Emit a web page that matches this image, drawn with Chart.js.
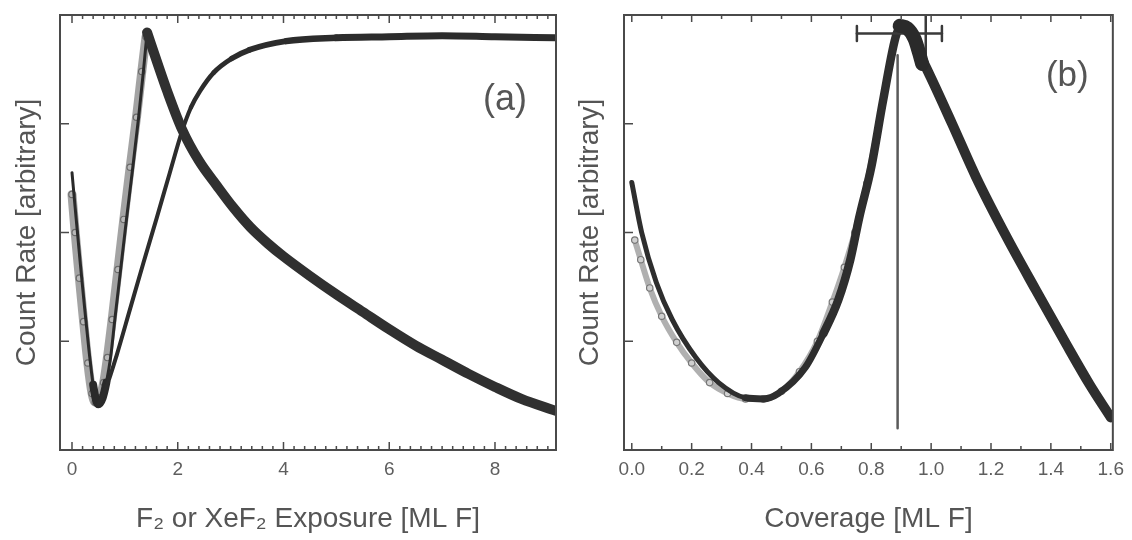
<!DOCTYPE html>
<html>
<head>
<meta charset="utf-8">
<script src="https://cdn.jsdelivr.net/npm/chart.js@4.4.1/dist/chart.umd.min.js"></script>
<style>
  html, body { margin: 0; padding: 0; background: #ffffff; }
  #wrap { position: relative; width: 1132px; height: 540px; overflow: hidden; background: #ffffff; }
  canvas { position: absolute; top: 0; }
</style>
</head>
<body>
<div id="wrap">
  <canvas id="chartA" width="570" height="540" style="left:0px"></canvas>
  <canvas id="chartB" width="556" height="540" style="left:576px"></canvas>
</div>
<script>
// ---------------- Panel (a) data ----------------
const aTickLabels = [0, 2, 4, 6, 8];
const aYTicks = [1, 2, 3];
// rising (saturating) curve
const aRiseX = [0.5, 0.65, 0.85, 1.1, 1.35, 1.6, 1.85, 2.08, 2.25, 2.42, 2.68, 3.02, 3.36, 4.05, 5.0, 6.0, 7.0, 8.0, 9.15];
const aRiseY = [0.42, 0.58, 0.88, 1.3, 1.72, 2.13, 2.55, 2.93, 3.15, 3.3, 3.47, 3.6, 3.68, 3.76, 3.79, 3.8, 3.81, 3.8, 3.79];
// black V (start -> minimum -> peak)
const aVX = [0.0, 0.08, 0.16, 0.24, 0.32, 0.4, 0.46, 0.5, 0.58, 0.65, 0.73, 0.81, 0.92, 1.03, 1.15, 1.26, 1.35, 1.42];
const aVY = [2.55, 2.12, 1.7, 1.3, 0.92, 0.6, 0.45, 0.42, 0.48, 0.62, 0.85, 1.2, 1.66, 2.12, 2.6, 3.06, 3.48, 3.84];
// grey open circles (V part)
const aGrayX = [0.0, 0.06, 0.14, 0.22, 0.3, 0.38, 0.44, 0.52, 0.6, 0.67, 0.76, 0.87, 0.98, 1.1, 1.22, 1.32, 1.4];
const aGrayY = [2.35, 2.0, 1.58, 1.18, 0.8, 0.52, 0.44, 0.48, 0.62, 0.85, 1.2, 1.66, 2.12, 2.6, 3.06, 3.48, 3.8];
// decay after the peak
const aDecayX = [1.42, 1.6, 1.8, 2.08, 2.4, 2.74, 3.05, 3.37, 3.7, 4.0, 4.5, 5.0, 5.5, 6.0, 6.5, 7.0, 7.5, 8.0, 8.5, 9.15];
const aDecayY = [3.84, 3.58, 3.3, 2.95, 2.66, 2.43, 2.23, 2.05, 1.9, 1.78, 1.6, 1.43, 1.27, 1.11, 0.96, 0.83, 0.7, 0.58, 0.47, 0.36];

// ---------------- Panel (b) data ----------------
const bTickLabels = [0.0, 0.2, 0.4, 0.6, 0.8, 1.0, 1.2, 1.4, 1.6];
const bYTicks = [1, 2, 3];
const bMainX = [0.0, 0.033, 0.082, 0.135, 0.214, 0.29, 0.38, 0.44, 0.49, 0.58, 0.64, 0.69, 0.73, 0.76, 0.8, 0.84, 0.885, 0.91, 0.95, 1.0, 1.07, 1.15, 1.25, 1.35, 1.45, 1.53, 1.6];
const bMainY = [2.46, 2.0, 1.54, 1.2, 0.85, 0.62, 0.48, 0.47, 0.52, 0.76, 1.07, 1.38, 1.75, 2.14, 2.6, 3.22, 3.83, 3.9, 3.7, 3.42, 3.0, 2.51, 1.97, 1.47, 0.98, 0.6, 0.3];
const bGrayX = [0.01, 0.03, 0.06, 0.1, 0.15, 0.2, 0.26, 0.32, 0.38, 0.44, 0.5, 0.56, 0.62, 0.67, 0.71, 0.745, 0.785, 0.825, 0.87];
const bGrayY = [1.93, 1.75, 1.49, 1.23, 0.99, 0.8, 0.62, 0.52, 0.47, 0.47, 0.54, 0.72, 1.0, 1.36, 1.68, 2.0, 2.45, 3.0, 3.65];
const bVLineX = [0.888, 0.888];
const bVLineY = [3.63, 0.2];
const bErrX = [0.752, 1.036];
const bErrY = [3.83, 3.83];
const bErrCapLX = [0.752, 0.752];
const bErrCapRX = [1.036, 1.036];
const bErrCapY = [3.76, 3.9];
const bErrVX = [0.982, 0.982];
const bErrVY = [4.0, 3.55];
const bBlobX = [0.895, 0.92, 0.945, 0.96, 0.97];
const bBlobY = [3.9, 3.88, 3.78, 3.65, 3.55];

const FONT = '"Liberation Sans", Arial, Helvetica, sans-serif';
const TEXT = '#555555';

function pts(xs, ys) { return xs.map((x, i) => ({ x: x, y: ys[i] })); }

function lineDS(xs, ys, color, width, extra) {
  return Object.assign({
    data: pts(xs, ys), showLine: true, borderColor: color, borderWidth: width,
    pointRadius: 0, cubicInterpolationMode: 'monotone', fill: false,
    borderCapStyle: 'round', borderJoinStyle: 'round'
  }, extra || {});
}
// width that changes along x (thin/thick parts of the dense data bands)
function widthBy(stops) {
  return { borderWidth: c => { const x = c.p0.parsed.x; let w = stops[0][1]; stops.forEach(s => { if (x >= s[0]) w = s[1]; }); return w; } };
}

const frameTicks = {
  id: 'frameTicks',
  afterDatasetsDraw(chart, args, o) {
    const { ctx, chartArea: ca } = chart;
    const x = chart.scales.x, y = chart.scales.y;
    ctx.save();
    ctx.strokeStyle = o.color;
    ctx.lineWidth = o.tickWidth;
    ctx.beginPath();
    const n = Math.round((o.maxMinor - o.minMinor) / o.step);
    for (let i = 0; i <= n; i++) {
      const v = o.minMinor + i * o.step;
      const px = x.getPixelForValue(v);
      if (px < ca.left + 1 || px > ca.right - 1) continue;
      const isMajor = o.major.some(m => Math.abs(m - v) < 1e-6);
      const L = isMajor ? o.majorLen : o.minorLen;
      ctx.moveTo(px, ca.bottom); ctx.lineTo(px, ca.bottom - L);
      ctx.moveTo(px, ca.top); ctx.lineTo(px, ca.top + L);
    }
    o.yTicks.forEach(v => {
      const py = y.getPixelForValue(v);
      ctx.moveTo(ca.left, py); ctx.lineTo(ca.left + o.yLen, py);
    });
    ctx.stroke();
    ctx.lineWidth = o.width;
    ctx.strokeRect(ca.left, ca.top, ca.right - ca.left, ca.bottom - ca.top);
    ctx.fillStyle = TEXT;
    ctx.font = o.labelSize + 'px ' + FONT;
    ctx.textAlign = 'center';
    ctx.textBaseline = 'middle';
    ctx.fillText(o.label, x.getPixelForValue(o.labelX), y.getPixelForValue(o.labelY));
    ctx.restore();
  }
};

function makeOptions(cfg) {
  return {
    responsive: false,
    animation: false,
    events: [],
    layout: { padding: { top: 15, right: cfg.padRight, left: 0, bottom: 0 } },
    plugins: {
      legend: { display: false },
      tooltip: { enabled: false },
      frameTicks: cfg.frame
    },
    scales: {
      x: {
        type: 'linear', min: cfg.xMin, max: cfg.xMax,
        grid: { display: false, drawTicks: false },
        border: { display: false },
        afterBuildTicks: s => { s.ticks = cfg.xTicks.map(v => ({ value: v })); },
        afterFit: s => { s.height = 90; },
        ticks: {
          autoSkip: false, maxRotation: 0, padding: 8, color: '#5e5e5e',
          font: { family: FONT, size: 19 },
          callback: cfg.fmt
        },
        title: {
          display: true, text: cfg.xTitle, color: TEXT,
          font: { family: FONT, size: 28, lineHeight: 1 },
          padding: { top: 0, bottom: 7 }
        }
      },
      y: {
        type: 'linear', min: 0, max: 4,
        grid: { display: false, drawTicks: false },
        border: { display: false },
        afterBuildTicks: s => { s.ticks = cfg.yTicks.map(v => ({ value: v })); },
        afterFit: s => { s.width = cfg.yWidth; },
        ticks: { display: false },
        title: {
          display: true, text: 'Count Rate [arbitrary]', color: TEXT,
          font: { family: FONT, size: 28, lineHeight: 1 },
          padding: { top: cfg.yTitlePad, bottom: 0 }
        }
      }
    }
  };
}

// ---------------- Chart (a) ----------------
new Chart(document.getElementById('chartA'), {
  type: 'scatter',
  data: {
    datasets: [
      lineDS(aDecayX, aDecayY, '#303030', 10),
      lineDS(aRiseX, aRiseY, '#2c2c2c', 5, { segment: widthBy([[0, 4], [2.2, 4.5], [2.5, 5], [2.8, 5.5], [3.1, 6], [3.5, 6.5], [4.2, 7]]) }),
      lineDS(aVX, aVY, '#2a2a2a', 3, { segment: widthBy([[0, 3], [0.36, 8], [0.62, 3]]) }),
      lineDS(aGrayX, aGrayY, 'rgba(140,140,140,0.8)', 9, {
        pointRadius: 3.2, pointBorderWidth: 1.2, pointBorderColor: '#6a6a6a',
        pointBackgroundColor: '#b8b8b8', pointStyle: 'circle'
      })
    ]
  },
  options: makeOptions({
    xMin: -0.227, xMax: 9.154, padRight: 14, yWidth: 60, yTitlePad: 13,
    xTicks: aTickLabels, yTicks: aYTicks,
    fmt: v => String(v),
    xTitle: 'F\u2082 or XeF\u2082 Exposure [ML F]',
    frame: {
      color: '#4a4a4a', width: 2, tickWidth: 1.5, step: 0.2, minMinor: 0, maxMinor: 9.2,
      major: aTickLabels, majorLen: 8, minorLen: 4, yTicks: aYTicks, yLen: 9,
      label: '(a)', labelX: 8.19, labelY: 3.22, labelSize: 36
    }
  }),
  plugins: [frameTicks]
});

// ---------------- Chart (b) ----------------
new Chart(document.getElementById('chartB'), {
  type: 'scatter',
  data: {
    datasets: [
      lineDS(bBlobX, bBlobY, '#2a2a2a', 14),
      lineDS(bErrX, bErrY, '#3a3a3a', 2.5, { cubicInterpolationMode: 'default', tension: 0 }),
      lineDS(bErrCapLX, bErrCapY, '#3a3a3a', 2.5, { cubicInterpolationMode: 'default', tension: 0 }),
      lineDS(bErrCapRX, bErrCapY, '#3a3a3a', 2.5, { cubicInterpolationMode: 'default', tension: 0 }),
      lineDS(bErrVX, bErrVY, '#3a3a3a', 2.5, { cubicInterpolationMode: 'default', tension: 0 }),
      lineDS(bVLineX, bVLineY, '#5a5a5a', 2.5, { cubicInterpolationMode: 'default', tension: 0 }),
      lineDS(bMainX, bMainY, '#2e2e2e', 7, { segment: widthBy([[0, 5], [0.3, 7], [0.6, 8.5], [0.92, 10]]) }),
      lineDS(bGrayX, bGrayY, 'rgba(150,150,150,0.75)', 6, {
        pointRadius: 3.2, pointBorderWidth: 1.2, pointBorderColor: '#777777',
        pointBackgroundColor: '#d0d0d0', pointStyle: 'circle'
      })
    ]
  },
  options: makeOptions({
    xMin: -0.026, xMax: 1.607, padRight: 13, yWidth: 48, yTitlePad: 0,
    xTicks: bTickLabels, yTicks: bYTicks,
    fmt: v => Number(v).toFixed(1),
    xTitle: 'Coverage [ML F]',
    frame: {
      color: '#4a4a4a', width: 2, tickWidth: 1.5, step: 0.1, minMinor: 0, maxMinor: 1.6,
      major: bTickLabels, majorLen: 7, minorLen: 4, yTicks: bYTicks, yLen: 9,
      label: '(b)', labelX: 1.455, labelY: 3.44, labelSize: 35
    }
  }),
  plugins: [frameTicks]
});
</script>
</body>
</html>
